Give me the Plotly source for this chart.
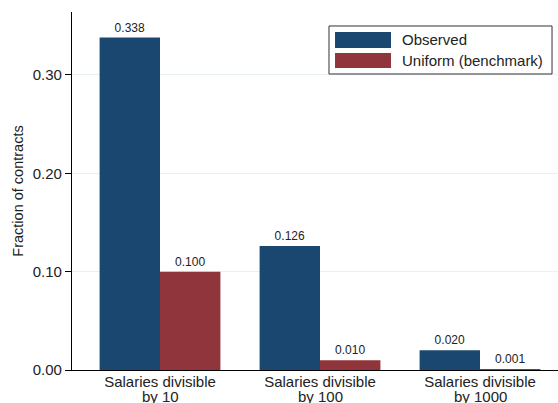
import plotly.graph_objects as go

categories_line1 = ["Salaries divisible", "Salaries divisible", "Salaries divisible"]
categories_line2 = ["by 10", "by 100", "by 1000"]
observed = [0.338, 0.126, 0.020]
uniform = [0.100, 0.010, 0.001]
series_names = ["Observed", "Uniform (benchmark)"]
colors = ["#1a476f", "#90353b"]
y_ticks = [0.0, 0.1, 0.2, 0.3]
y_ticklabels = ["0.00", "0.10", "0.20", "0.30"]

FONT = "Liberation Sans, Arial, sans-serif"
xpos = list(range(len(categories_line1)))

fig = go.Figure()
for name, vals, col in zip(series_names, [observed, uniform], colors):
    fig.add_trace(go.Bar(
        x=xpos, y=vals, name=name,
        marker=dict(color=col, line=dict(width=0)),
        texttemplate="%{y:.3f}", textposition="outside",
        textfont=dict(size=12, color="#222222", family=FONT),
        cliponaxis=False, showlegend=False,
    ))

fig.update_layout(
    width=558, height=403,
    margin=dict(l=72, r=0, t=12, b=33),
    paper_bgcolor="white", plot_bgcolor="white",
    barmode="group", bargap=0.245, bargroupgap=0,
    font=dict(family=FONT, color="#000000"),
)
fig.update_xaxes(
    range=[-0.55, 2.4875], automargin=False,
    tickmode="array", tickvals=xpos, ticktext=categories_line1,
    tickfont=dict(size=15, color="#222222"), ticklabelstandoff=-2,
    showline=True, linecolor="#000000", linewidth=1.2,
    ticks="", showgrid=False, zeroline=False,
)
fig.update_yaxes(
    range=[0, 0.364], automargin=False,
    tickmode="array", tickvals=y_ticks, ticktext=y_ticklabels,
    tickfont=dict(size=15, color="#222222"),
    ticks="outside", ticklen=6, tickcolor="#000000", tickwidth=1,
    showline=True, linecolor="#000000", linewidth=1.2,
    showgrid=True, gridcolor="#e8f0f2", gridwidth=1,
    zeroline=False,
    title=dict(text="Fraction of contracts", font=dict(size=14.5, color="#222222"), standoff=5),
)

# Legend drawn as a framed box with swatches
shapes = [
    dict(type="rect", xref="paper", yref="paper", x0=0.5288, x1=0.9877, y0=0.8268, y1=0.9609,
         line=dict(color="#333333", width=1), fillcolor="white", layer="above"),
    dict(type="rect", xref="paper", yref="paper", x0=0.5412, x1=0.6564, y0=0.8994, y1=0.9441,
         line=dict(width=0), fillcolor=colors[0], layer="above"),
    dict(type="rect", xref="paper", yref="paper", x0=0.5412, x1=0.6564, y0=0.8436, y1=0.8855,
         line=dict(width=0), fillcolor=colors[1], layer="above"),
]
annotations = [
    dict(xref="paper", yref="paper", x=0.6749, y=0.9218, text=series_names[0], showarrow=False,
         xanchor="left", yanchor="middle", font=dict(size=15, color="#222222")),
    dict(xref="paper", yref="paper", x=0.6749, y=0.8645, text=series_names[1], showarrow=False,
         xanchor="left", yanchor="middle", font=dict(size=15, color="#222222")),
]
# second line of each category label
for xv, txt in zip(xpos, categories_line2):
    annotations.append(dict(xref="x", yref="paper", x=xv, y=0, yshift=-26.5, text=txt,
                            showarrow=False, xanchor="center", yanchor="middle",
                            font=dict(size=15, color="#222222")))
fig.update_layout(shapes=shapes, annotations=annotations)

fig.write_html("out.html", config={"displayModeBar": False},
               post_script="document.body.style.margin='0px';document.body.style.overflow='hidden';")
